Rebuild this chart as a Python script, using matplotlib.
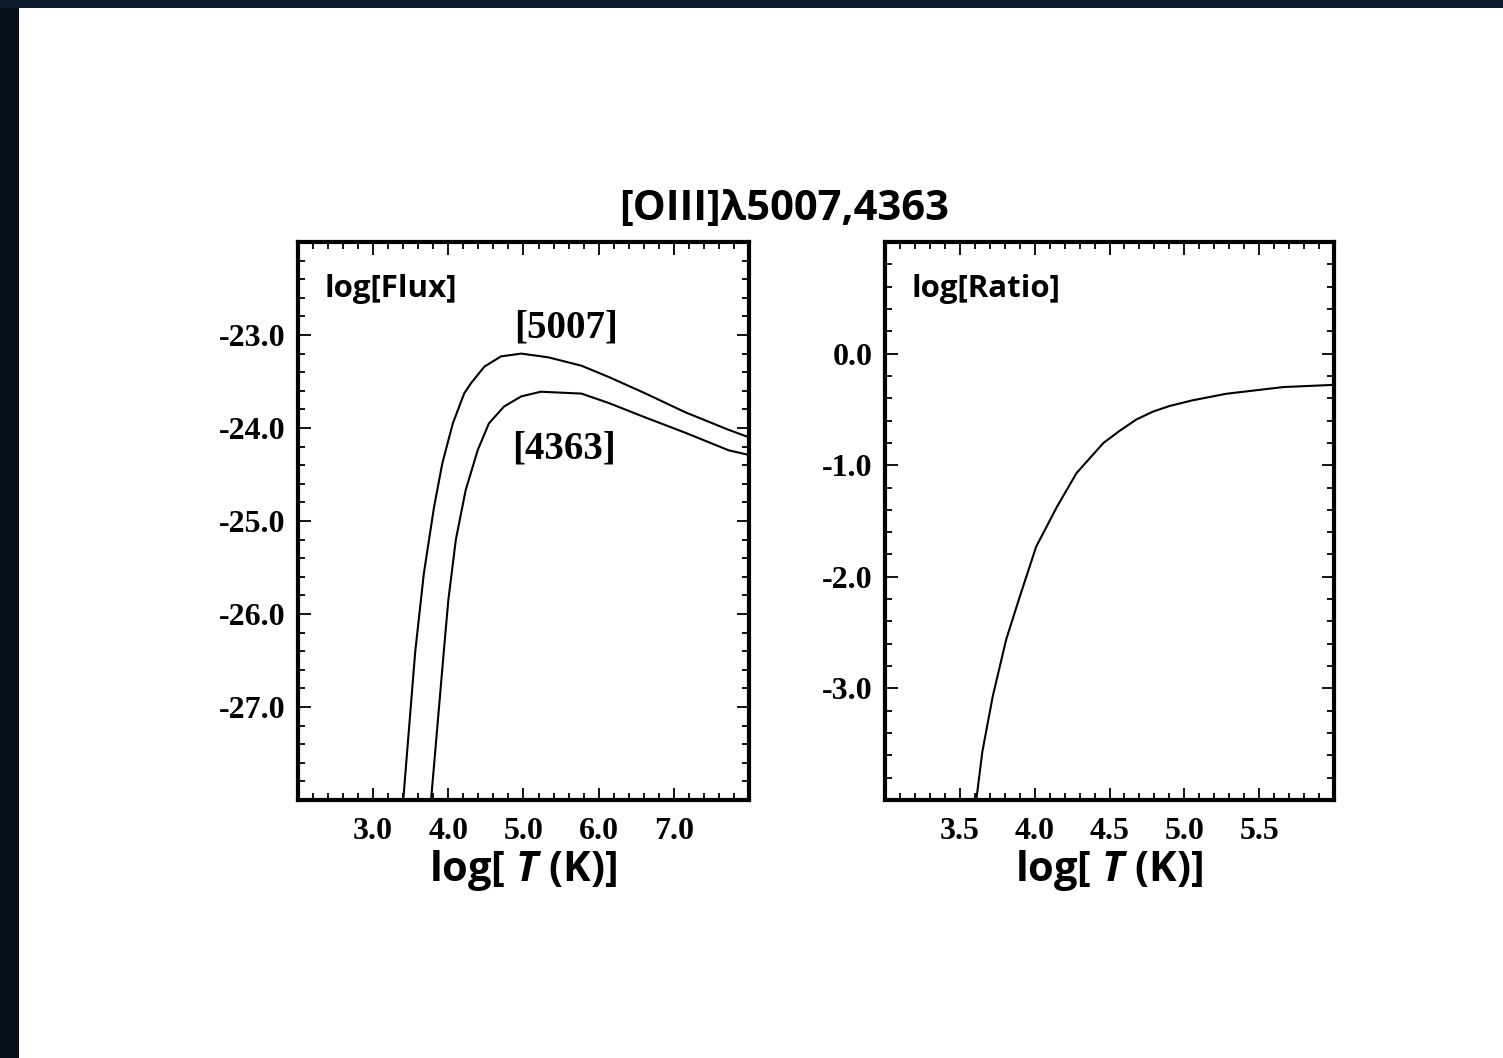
import numpy as np
import matplotlib
matplotlib.use('Agg')
import matplotlib.pyplot as plt
from matplotlib.patches import Rectangle
from matplotlib.ticker import MultipleLocator, FormatStrFormatter

plt.rcParams['axes.unicode_minus'] = False
plt.rcParams['mathtext.fontset'] = 'custom'
plt.rcParams['mathtext.bfit'] = 'Open Sans:italic:bold'
plt.rcParams['mathtext.rm'] = 'Open Sans:bold'

# [OIII] line fluxes vs temperature
logt_5007 = [3.40, 3.56, 3.675, 3.81, 3.92, 4.06, 4.21, 4.30, 4.48, 4.70, 4.97,
             5.33, 5.77, 6.13, 6.60, 7.15, 7.73, 8.00]
flux_5007 = [-28.0, -26.40, -25.56, -24.85, -24.38, -23.95, -23.63, -23.52, -23.34, -23.23,
             -23.20, -23.24, -23.33, -23.45, -23.62, -23.83, -24.02, -24.10]

logt_4363 = [3.77, 3.94, 4.00, 4.10, 4.23, 4.39, 4.54, 4.74, 4.97, 5.23, 5.77, 6.13,
             6.60, 7.15, 7.73, 8.00]
flux_4363 = [-28.0, -26.40, -25.85, -25.20, -24.67, -24.24, -23.95, -23.77, -23.66, -23.61,
             -23.63, -23.73, -23.88, -24.05, -24.24, -24.29]

# 4363/5007 ratio
logt_ratio = [3.61, 3.65, 3.72, 3.81, 3.90, 4.01, 4.15, 4.28, 4.46, 4.57, 4.68, 4.79,
              4.90, 5.05, 5.28, 5.66, 6.00]
log_ratio = [-4.0, -3.57, -3.07, -2.56, -2.18, -1.73, -1.37, -1.07, -0.80, -0.69, -0.59,
             -0.52, -0.47, -0.42, -0.36, -0.30, -0.28]

flux_xticks = [3.0, 4.0, 5.0, 6.0, 7.0]
flux_yticks = [-23.0, -24.0, -25.0, -26.0, -27.0]
ratio_xticks = [3.5, 4.0, 4.5, 5.0, 5.5]
ratio_yticks = [0.0, -1.0, -2.0, -3.0]

sans = 'Open Sans'
serif = 'Liberation Serif'

fig = plt.figure(figsize=(15.03, 10.58), dpi=100)
fig.patch.set_facecolor('white')

# dark frame strips along top and left
fig.patches.append(Rectangle((0, 0), 19 / 1503, 1, transform=fig.transFigure,
                             facecolor='#06111c', edgecolor='none', zorder=0))
fig.patches.append(Rectangle((0, 1 - 8 / 1058), 1, 8 / 1058, transform=fig.transFigure,
                             facecolor='#0b1b2b', edgecolor='none', zorder=0))

ax1 = fig.add_axes([298 / 1503, 1 - 800 / 1058, 451 / 1503, 558 / 1058])
ax2 = fig.add_axes([885 / 1503, 1 - 800 / 1058, 449 / 1503, 558 / 1058])


def style_axes(ax, xminor, yminor):
    for s in ax.spines.values():
        s.set_linewidth(3.0)
    ax.tick_params(which='both', direction='in', top=True, right=True, width=1.3)
    ax.tick_params(which='major', length=9)
    ax.tick_params(axis='x', which='major', pad=12)
    ax.tick_params(axis='y', which='major', pad=9)
    ax.tick_params(which='minor', length=5)
    ax.xaxis.set_minor_locator(MultipleLocator(xminor))
    ax.yaxis.set_minor_locator(MultipleLocator(yminor))
    ax.xaxis.set_major_formatter(FormatStrFormatter('%.1f'))
    ax.yaxis.set_major_formatter(FormatStrFormatter('%.1f'))
    for lab in ax.get_xticklabels() + ax.get_yticklabels():
        lab.set_fontfamily(serif)
        lab.set_fontweight('bold')
        lab.set_fontsize(23)
    ax.set_xlabel(r'log[ $\mathbfit{T}$ (K)]', fontsize=30, fontfamily=sans,
                  fontweight='bold', labelpad=2)


ax1.plot(logt_5007, flux_5007, color='black', lw=1.5)
ax1.plot(logt_4363, flux_4363, color='black', lw=1.5)
ax1.set_xlim(2.0, 8.0)
ax1.set_ylim(-28.0, -22.0)
ax1.set_xticks(flux_xticks)
ax1.set_yticks(flux_yticks)
style_axes(ax1, 0.2, 0.2)
ax1.text(0.058, 0.942, 'log[Flux]', transform=ax1.transAxes, fontsize=22.5,
         fontfamily=sans, fontweight='bold', va='top', ha='left')
ax1.text(5.57, -22.92, '[5007]', fontsize=28, fontfamily=serif, fontweight='bold',
         ha='center', va='center')
ax1.text(5.54, -24.23, '[4363]', fontsize=28, fontfamily=serif, fontweight='bold',
         ha='center', va='center')

ax2.plot(logt_ratio, log_ratio, color='black', lw=1.5)
ax2.set_xlim(3.0, 6.0)
ax2.set_ylim(-4.0, 1.0)
ax2.set_xticks(ratio_xticks)
ax2.set_yticks(ratio_yticks)
style_axes(ax2, 0.1, 0.2)
ax2.text(0.06, 0.942, 'log[Ratio]', transform=ax2.transAxes, fontsize=22.5,
         fontfamily=sans, fontweight='bold', va='top', ha='left')

fig.text(784 / 1503, 1 - 210 / 1058, '[OIII]λ5007,4363', fontsize=30,
         fontfamily=sans, fontweight='bold', ha='center', va='center')

fig.savefig('out.png', dpi=100)
